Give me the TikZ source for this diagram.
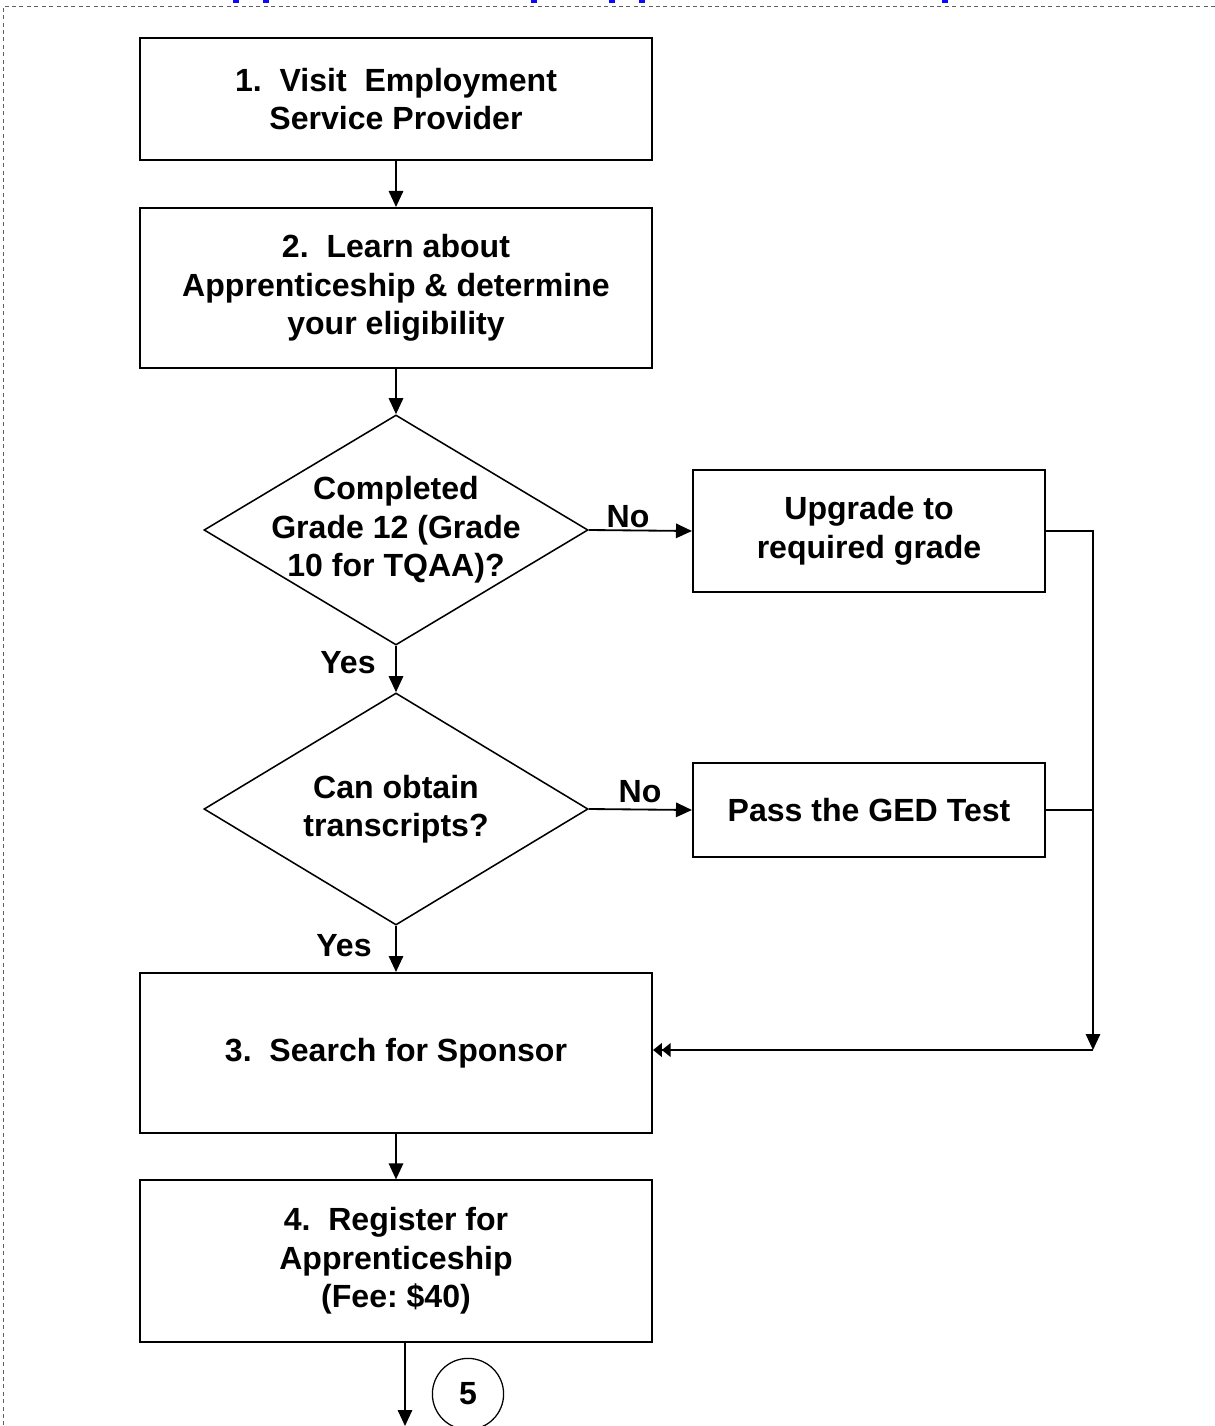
\documentclass[tikz,border=0pt]{standalone}
\usepackage{fontspec}
\setmainfont{Liberation Sans}
\usepackage{xcolor}
\usepackage{tikz}
\usetikzlibrary{shapes.geometric, positioning, arrows.meta, calc}
\frenchspacing

\definecolor{framegray}{RGB}{96,96,96}
\definecolor{titleblue}{RGB}{10,10,250}

\begin{document}
\begin{tikzpicture}[x=0.025cm, y=-0.025cm,
	stepbox/.style={draw, line width=1.4pt, align=center, inner sep=0pt, font=\bigtext},
	decision/.style={draw, diamond, line width=1.1pt, inner sep=0pt},
	flow/.style={line width=1.3pt, -{Triangle[length=0.4cm, width=0.36cm]}},
	joinflow/.style={line width=1.3pt, -{Triangle[length=0.22cm, width=0.34cm]Triangle[length=0.22cm, width=0.34cm]}},
	plain/.style={line width=1.3pt},
	answer/.style={font=\bigtext, inner sep=0pt}]
	% Define constants
	\def\bigtext{\fontsize{22.8}{27.4}\selectfont\bfseries}
	
	% Fix the page size
	\useasboundingbox (0,0) rectangle (1215,1426);
	
	% Dashed frame and cut-off title
	\draw[framegray, line width=0.7pt, dash pattern=on 1mm off 0.85mm] (1230,6) -- (3,6) -- (3,1440);
	\foreach \x in {233, 263, 531, 609, 639, 942} {
		\fill[titleblue] (\x,0) rectangle (\x+6,3);
	}
	
	% Main steps
	\node[stepbox, minimum width=12.8cm, minimum height=3.05cm] (visit) at (396,99) {1.~~Visit~~Employment\\Service Provider};
	\node[stepbox, minimum width=12.8cm, minimum height=4cm] (learn) at (396,288) {2.~~Learn about\\Apprenticeship \& determine\\your eligibility};
	\node[decision, minimum width=9.6cm, minimum height=5.75cm,
		label={[answer, align=center]center:{Completed\\Grade 12 (Grade\\10 for TQAA)?}}] (grade) at (396,530) {};
	\node[decision, minimum width=9.6cm, minimum height=5.8cm,
		label={[answer, align=center]center:{Can obtain\\transcripts?}}] (transcripts) at (396,809) {};
	\node[stepbox, minimum width=12.8cm, minimum height=4cm] (sponsor) at (396,1053) {3.~~Search for Sponsor};
	\node[stepbox, minimum width=12.8cm, minimum height=4.03cm] (register) at (396,1261) {4.~~Register for\\Apprenticeship\\(Fee: \$40)};
	
	% Side steps
	\node[stepbox, minimum width=8.8cm, minimum height=3.05cm] (upgrade) at (869,531) {Upgrade to\\required grade};
	\node[stepbox, minimum width=8.8cm, minimum height=2.35cm] (ged) at (869,810) {Pass the GED Test};
	
	% Connector to step 5
	\node[draw, circle, line width=0.9pt, minimum size=1.78cm, inner sep=0pt, font=\bigtext] (five) at (468,1394) {5};
	\coordinate (next) at (405,1426);
	
	% Right hand return line
	\coordinate (rtop) at (1093,531);
	\coordinate (rbot) at (1093,1050);
	
	% Arrows
	\draw[flow] (visit) -- (learn);
	\draw[flow] (learn) -- (grade);
	\draw[flow] (grade) -- (transcripts);
	\draw[flow] (transcripts) -- (sponsor);
	\draw[flow] (sponsor) -- (register);
	\draw[flow] (register.south -| next) -- (next);
	\draw[flow] (grade.east) -- (upgrade.west);
	\draw[flow] (transcripts.east) -- (ged.west);
	\draw[flow] (upgrade.east) -- (rtop) -- (rbot);
	\draw[plain] (ged.east) -- (ged.east -| rtop);
	\draw[joinflow] (rbot) -- (rbot -| sponsor.east);
	
	% Answer labels
	\node[answer] at (628,517) {No};
	\node[answer] at (640,792) {No};
	\node[answer] at (348,663) {Yes};
	\node[answer] at (344,946) {Yes};
	
\end{tikzpicture}
\end{document}
